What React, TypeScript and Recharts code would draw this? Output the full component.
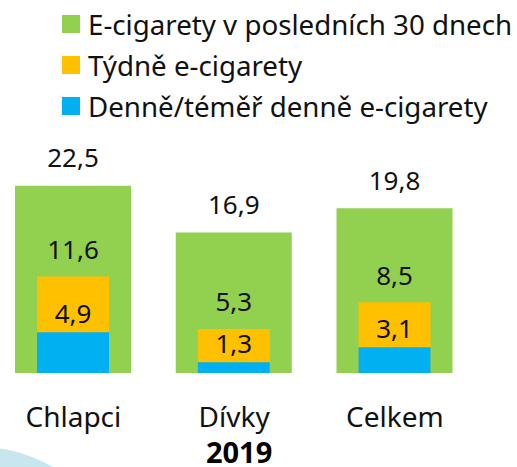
import { BarChart, Bar, XAxis, YAxis, LabelList } from "recharts"

const categories = ["Chlapci", "Dívky", "Celkem"]
const last30Days = [22.5, 16.9, 19.8]
const weekly = [11.6, 5.3, 8.5]
const daily = [4.9, 1.3, 3.1]
const seriesNames = [
  "E-cigarety v posledních 30 dnech",
  "Týdně e-cigarety",
  "Denně/téměř denně e-cigarety",
]
const year = "2019"

const colors = ["#92d050", "#ffc000", "#00b0f0"]
const font = "'Noto Sans', 'Open Sans', sans-serif"

const data = categories.map((name, i) => ({
  name,
  last30: last30Days[i],
  weekly: weekly[i],
  daily: daily[i],
}))

const fmt = (v: any) => String(v).replace(".", ",")

export default function App() {
  const labelStyle = { fontSize: 26, fill: "#111", fontFamily: font }
  return (
    <div style={{ position: "absolute", left: 0, top: 0, width: 517, height: 467, overflow: "hidden", fontFamily: font }}>
      {/* decorative circle bottom-left */}
      <div
        style={{
          position: "absolute",
          left: -163,
          top: 447,
          width: 286,
          height: 286,
          borderRadius: "50%",
          background: "#c8e6ee",
        }}
      />
      <div style={{ position: "absolute", left: 62, top: 4 }}>
        {seriesNames.map((s, i) => (
          <div key={s} style={{ display: "flex", alignItems: "center", height: 40.7 }}>
            <span style={{ width: 18, height: 18, background: colors[i], display: "inline-block", marginRight: 8 }} />
            <span style={{ fontSize: 27.7, color: "#111", whiteSpace: "nowrap" }}>{s}</span>
          </div>
        ))}
      </div>
      <BarChart
        width={517}
        height={467}
        data={data}
        margin={{ top: 123.4, right: 41.75, left: -7, bottom: 34 }}
        style={{ position: "absolute", left: 0, top: 0 }}
      >
        <XAxis
          xAxisId="g"
          dataKey="name"
          axisLine={false}
          tickLine={false}
          tickSize={0}
          tickMargin={4}
          height={60}
          tick={{ fontSize: 28, fill: "#111", fontFamily: font }}
          label={{
            value: year,
            position: "insideBottom",
            offset: 0,
            dx: 5,
            style: { fontSize: 29, fontWeight: 700, fill: "#000", fontFamily: font },
          }}
        />
        <XAxis xAxisId="o" dataKey="name" hide />
        <XAxis xAxisId="b" dataKey="name" hide />
        <YAxis hide domain={[0, 30]} />
        <Bar xAxisId="g" dataKey="last30" fill={colors[0]} barSize={116} isAnimationActive={false}>
          <LabelList dataKey="last30" position="top" offset={18.5} formatter={fmt} style={labelStyle} />
        </Bar>
        <Bar xAxisId="o" dataKey="weekly" fill={colors[1]} barSize={72} isAnimationActive={false}>
          <LabelList dataKey="weekly" position="top" offset={17.5} formatter={fmt} style={labelStyle} />
        </Bar>
        <Bar xAxisId="b" dataKey="daily" fill={colors[2]} barSize={72} isAnimationActive={false}>
          <LabelList dataKey="daily" position="top" offset={9} formatter={fmt} style={labelStyle} />
        </Bar>
      </BarChart>
    </div>
  )
}
